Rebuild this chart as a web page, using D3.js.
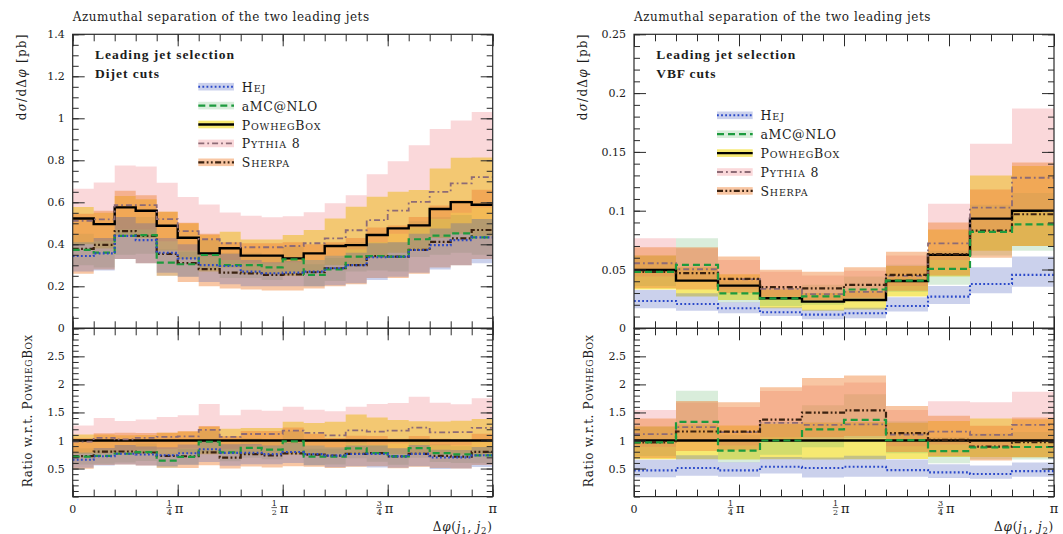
<!DOCTYPE html>
<html>
<head>
<meta charset="utf-8">
<script src="https://cdn.jsdelivr.net/npm/d3@7/dist/d3.min.js"></script>
<style>
  html, body { margin: 0; padding: 0; background: #fff; }
  svg { display: block; }
  text { font-family: "DejaVu Serif", "Liberation Serif", serif; fill: #1c1c1c; }
  text.heading { font-family: "Liberation Serif", "DejaVu Serif", serif; font-weight: bold; }
</style>
</head>
<body>
<svg id="chart" width="1063" height="534"></svg>
<script>
// ---------------------------------------------------------------------------
// Binning (Δφ in units of π) and tick labels
// ---------------------------------------------------------------------------
const dijetEdges = [0, 0.05, 0.1, 0.15, 0.2, 0.25, 0.3, 0.35, 0.4, 0.45, 0.5,
                    0.55, 0.6, 0.65, 0.7, 0.75, 0.8, 0.85, 0.9, 0.95, 1];
const vbfEdges = [0, 0.1, 0.2, 0.3, 0.4, 0.5, 0.6, 0.7, 0.8, 0.9, 1];
const xMajorTicks = [0, 0.25, 0.5, 0.75, 1];
const xTickLabels = [
  { text: "0" },
  { num: "1", den: "4", sym: "π" },
  { num: "1", den: "2", sym: "π" },
  { num: "3", den: "4", sym: "π" },
  { text: "π" }
];
const dijetYTicks = [0, 0.2, 0.4, 0.6, 0.8, 1, 1.2, 1.4];
const vbfYTicks = [0, 0.05, 0.1, 0.15, 0.2, 0.25];
const ratioYTicks = [0.5, 1, 1.5, 2, 2.5];

const generatorNames = ["Hej", "aMC@NLO", "PowhegBox", "Pythia 8", "Sherpa"];

// ---------------------------------------------------------------------------
// Dijet cuts: dσ/dΔφ [pb], central values and uncertainty envelopes
// ---------------------------------------------------------------------------
const dijetHej    = [0.344, 0.357, 0.44, 0.42, 0.36, 0.333, 0.301, 0.297, 0.27, 0.262,
                     0.265, 0.27, 0.286, 0.301, 0.338, 0.341, 0.373, 0.396, 0.42, 0.433];
const dijetHejLo  = [0.27, 0.275, 0.33, 0.31, 0.265, 0.245, 0.22, 0.21, 0.2, 0.2,
                     0.2, 0.2, 0.205, 0.215, 0.23, 0.245, 0.265, 0.28, 0.3, 0.31];
const dijetHejHi  = [0.41, 0.43, 0.53, 0.5, 0.43, 0.4, 0.36, 0.355, 0.325, 0.315,
                     0.32, 0.325, 0.345, 0.36, 0.405, 0.41, 0.45, 0.475, 0.5, 0.52];

const dijetAmc    = [0.373, 0.36, 0.44, 0.444, 0.313, 0.305, 0.349, 0.301, 0.301, 0.29,
                     0.328, 0.254, 0.28, 0.341, 0.344, 0.341, 0.424, 0.441, 0.452, 0.433];
const dijetAmcLo  = [0.3, 0.29, 0.35, 0.355, 0.25, 0.245, 0.28, 0.24, 0.24, 0.23,
                     0.26, 0.2, 0.225, 0.27, 0.275, 0.27, 0.34, 0.35, 0.36, 0.35];
const dijetAmcHi  = [0.45, 0.43, 0.53, 0.53, 0.375, 0.365, 0.42, 0.36, 0.36, 0.345,
                     0.39, 0.305, 0.335, 0.41, 0.41, 0.41, 0.51, 0.53, 0.54, 0.52];

const dijetPowheg   = [0.523, 0.496, 0.576, 0.56, 0.488, 0.431, 0.357, 0.381, 0.346, 0.346,
                       0.333, 0.357, 0.392, 0.396, 0.444, 0.476, 0.49, 0.568, 0.601, 0.588];
const dijetPowhegLo = [0.4, 0.38, 0.44, 0.43, 0.37, 0.33, 0.27, 0.29, 0.26, 0.26,
                       0.25, 0.27, 0.3, 0.3, 0.34, 0.36, 0.37, 0.43, 0.45, 0.44];
const dijetPowhegHi = [0.578, 0.55, 0.63, 0.615, 0.555, 0.5, 0.445, 0.46, 0.423, 0.423,
                       0.444, 0.468, 0.523, 0.579, 0.626, 0.65, 0.658, 0.761, 0.812, 0.813];

const dijetPythia   = [0.512, 0.519, 0.587, 0.587, 0.52, 0.463, 0.424, 0.405, 0.386, 0.386,
                       0.392, 0.405, 0.428, 0.467, 0.515, 0.56, 0.602, 0.65, 0.69, 0.72];
const dijetPythiaLo = [0.41, 0.415, 0.47, 0.47, 0.415, 0.37, 0.34, 0.325, 0.31, 0.31,
                       0.315, 0.325, 0.345, 0.375, 0.41, 0.45, 0.48, 0.52, 0.55, 0.575];
const dijetPythiaHi = [0.664, 0.694, 0.775, 0.77, 0.693, 0.625, 0.589, 0.552, 0.536, 0.529,
                       0.533, 0.553, 0.596, 0.634, 0.733, 0.795, 0.872, 0.949, 0.99, 1.03];

const dijetSherpa   = [0.378, 0.397, 0.463, 0.44, 0.354, 0.31, 0.282, 0.265, 0.262, 0.254,
                       0.257, 0.267, 0.286, 0.301, 0.344, 0.341, 0.373, 0.412, 0.428, 0.468];
const dijetSherpaLo = [0.26, 0.28, 0.33, 0.31, 0.25, 0.22, 0.2, 0.19, 0.185, 0.18,
                       0.18, 0.19, 0.2, 0.21, 0.24, 0.24, 0.26, 0.29, 0.3, 0.33];
const dijetSherpaHi = [0.545, 0.56, 0.655, 0.634, 0.555, 0.503, 0.45, 0.41, 0.405, 0.405,
                       0.41, 0.4, 0.41, 0.43, 0.48, 0.49, 0.53, 0.585, 0.61, 0.66];

// ---------------------------------------------------------------------------
// VBF cuts: dσ/dΔφ [pb], central values and uncertainty envelopes
// ---------------------------------------------------------------------------
const vbfHej      = [0.0232, 0.0207, 0.017, 0.0136, 0.0116, 0.0128, 0.019, 0.0269, 0.0377, 0.0454];
const vbfHejLo    = [0.017, 0.015, 0.0128, 0.0105, 0.0077, 0.0085, 0.0142, 0.0207, 0.0298, 0.0354];
const vbfHejHi    = [0.0326, 0.0298, 0.0222, 0.018, 0.0158, 0.0175, 0.0265, 0.036, 0.0519, 0.061];

const vbfAmc      = [0.048, 0.054, 0.0297, 0.0255, 0.0272, 0.033, 0.0405, 0.0505, 0.082, 0.0884];
const vbfAmcLo    = [0.036, 0.041, 0.022, 0.019, 0.02, 0.025, 0.031, 0.037, 0.062, 0.066];
const vbfAmcHi    = [0.062, 0.0765, 0.04, 0.034, 0.037, 0.044, 0.054, 0.066, 0.105, 0.115];

const vbfPowheg   = [0.0496, 0.0405, 0.0363, 0.0255, 0.0227, 0.0241, 0.0402, 0.0624, 0.0933, 0.1];
const vbfPowhegLo = [0.033, 0.027, 0.024, 0.017, 0.015, 0.016, 0.027, 0.044, 0.066, 0.07];
const vbfPowhegHi = [0.062, 0.052, 0.046, 0.033, 0.03, 0.032, 0.053, 0.084, 0.13, 0.138];

const vbfPythia   = [0.0553, 0.0502, 0.0417, 0.0335, 0.029, 0.031, 0.0445, 0.0723, 0.1026, 0.128];
const vbfPythiaLo = [0.044, 0.04, 0.033, 0.027, 0.023, 0.025, 0.036, 0.058, 0.082, 0.1];
const vbfPythiaHi = [0.0765, 0.068, 0.058, 0.048, 0.045, 0.049, 0.062, 0.106, 0.157, 0.187];

const vbfSherpa   = [0.048, 0.047, 0.042, 0.035, 0.034, 0.037, 0.0455, 0.063, 0.083, 0.097];
const vbfSherpaLo = [0.034, 0.033, 0.03, 0.025, 0.024, 0.026, 0.032, 0.045, 0.06, 0.07];
const vbfSherpaHi = [0.069, 0.069, 0.061, 0.0497, 0.048, 0.052, 0.065, 0.09, 0.118, 0.141];

// ---------------------------------------------------------------------------
// Styling
// ---------------------------------------------------------------------------
const styles = {
  hej:    { line: "#2b49c9", width: 2.1, dash: "1.8 2.3", band: "rgba(70,88,185,0.28)" },
  amc:    { line: "#1d9b3e", width: 2.2, dash: "7 4", band: "rgba(80,175,90,0.22)" },
  powheg: { line: "#000000", width: 2.4, dash: null, band: "rgba(242,222,40,0.66)" },
  pythia: { line: "#8d6b76", width: 1.8, dash: "6 3 1.8 3", band: "rgba(236,110,120,0.27)" },
  sherpa: { line: "#3b2210", width: 2.2, dash: "6 2.4 1.8 2.4 1.8 2.4", band: "rgba(240,130,55,0.46)" }
};
const seriesKeys = ["hej", "amc", "powheg", "pythia", "sherpa"];
const bandOrder = ["powheg", "amc", "pythia", "sherpa", "hej"];
const lineOrder = ["powheg", "pythia", "sherpa", "amc", "hej"];

const layout = { yTop: 34.3, yBottom: 328.3, rBottom: 496.6 };

const panels = [
  {
    id: "dijet", x0: 72.7, x1: 492.7, yMax: 1.4, yTicks: dijetYTicks, yMinorStep: 0.05,
    cutLabel: "Dijet cuts", cutWidth: 65, edges: dijetEdges, legendX: 125.6, legendY: 86.7,
    series: {
      hej:    { c: dijetHej, lo: dijetHejLo, hi: dijetHejHi },
      amc:    { c: dijetAmc, lo: dijetAmcLo, hi: dijetAmcHi },
      powheg: { c: dijetPowheg, lo: dijetPowhegLo, hi: dijetPowhegHi },
      pythia: { c: dijetPythia, lo: dijetPythiaLo, hi: dijetPythiaHi },
      sherpa: { c: dijetSherpa, lo: dijetSherpaLo, hi: dijetSherpaHi }
    }
  },
  {
    id: "vbf", x0: 634, x1: 1054, yMax: 0.25, yTicks: vbfYTicks, yMinorStep: 0.01,
    cutLabel: "VBF cuts", cutWidth: 60, edges: vbfEdges, legendX: 83, legendY: 115.3,
    series: {
      hej:    { c: vbfHej, lo: vbfHejLo, hi: vbfHejHi },
      amc:    { c: vbfAmc, lo: vbfAmcLo, hi: vbfAmcHi },
      powheg: { c: vbfPowheg, lo: vbfPowhegLo, hi: vbfPowhegHi },
      pythia: { c: vbfPythia, lo: vbfPythiaLo, hi: vbfPythiaHi },
      sherpa: { c: vbfSherpa, lo: vbfSherpaLo, hi: vbfSherpaHi }
    }
  }
];

const svg = d3.select("#chart");
const defs = svg.append("defs");

// Stretch or squeeze letter spacing so a label spans a given width
function fitText(sel, target) {
  const node = sel.node();
  const w = node.getComputedTextLength();
  const n = node.textContent.length;
  if (w > 0 && n > 0) sel.attr("letter-spacing", ((target - w) / n).toFixed(3));
}

// Append a label set in small capitals: lower-case runs become reduced capitals
function appendSmallCaps(textSel, str) {
  const runs = str.match(/[a-z]+|[^a-z]+/g) || [];
  runs.forEach(r => {
    if (/^[a-z]+$/.test(r)) {
      textSel.append("tspan").attr("font-size", "0.76em").text(r.toUpperCase());
    } else {
      textSel.append("tspan").text(r);
    }
  });
}

function styleAxis(g) {
  g.attr("font-family", null).attr("font-size", null);
  g.select(".domain").remove();
  g.selectAll(".tick line").attr("stroke", "#2a2a2a").attr("stroke-width", 1);
}

const numFmt = v => String(+v.toFixed(3));

function drawPanel(p) {
  const g = svg.append("g").attr("class", "panel-" + p.id);
  const x = d3.scaleLinear().domain([0, 1]).range([p.x0, p.x1]);
  const y = d3.scaleLinear().domain([0, p.yMax]).range([layout.yBottom, layout.yTop]);
  const yr = d3.scaleLinear().domain([0, 3]).range([layout.rBottom, layout.yBottom]);
  const n = p.edges.length - 1;
  const ref = p.series.powheg.c;

  defs.append("clipPath").attr("id", "clip-main-" + p.id)
    .append("rect").attr("x", p.x0).attr("y", layout.yTop)
    .attr("width", p.x1 - p.x0).attr("height", layout.yBottom - layout.yTop);
  defs.append("clipPath").attr("id", "clip-ratio-" + p.id)
    .append("rect").attr("x", p.x0).attr("y", layout.yBottom)
    .attr("width", p.x1 - p.x0).attr("height", layout.rBottom - layout.yBottom);

  const mainG = g.append("g").attr("clip-path", `url(#clip-main-${p.id})`);
  const ratioG = g.append("g").attr("clip-path", `url(#clip-ratio-${p.id})`);

  const bandPts = (s, div) => p.edges.map((e, i) => {
    const k = Math.min(i, n - 1);
    const d = div ? ref[k] : 1;
    return { e, lo: s.lo[k] / d, hi: s.hi[k] / d };
  });
  const linePts = (s, div) => p.edges.map((e, i) => {
    const k = Math.min(i, n - 1);
    return { e, v: s.c[k] / (div ? ref[k] : 1) };
  });

  const areaMain = d3.area().curve(d3.curveStepAfter)
    .x(d => x(d.e)).y0(d => y(d.lo)).y1(d => y(d.hi));
  const areaRatio = d3.area().curve(d3.curveStepAfter)
    .x(d => x(d.e)).y0(d => yr(d.lo)).y1(d => yr(d.hi));
  const lineMain = d3.line().curve(d3.curveStepAfter).x(d => x(d.e)).y(d => y(d.v));
  const lineRatio = d3.line().curve(d3.curveStepAfter).x(d => x(d.e)).y(d => yr(d.v));

  bandOrder.forEach(k => {
    const s = p.series[k];
    mainG.append("path").datum(bandPts(s, false)).attr("d", areaMain)
      .attr("fill", styles[k].band).attr("stroke", "none");
    ratioG.append("path").datum(bandPts(s, true)).attr("d", areaRatio)
      .attr("fill", styles[k].band).attr("stroke", "none");
  });
  lineOrder.forEach(k => {
    const s = p.series[k], st = styles[k];
    [[mainG, lineMain, false], [ratioG, lineRatio, true]].forEach(([grp, gen, div]) => {
      grp.append("path").datum(linePts(s, div)).attr("d", gen)
        .attr("fill", "none").attr("stroke", st.line).attr("stroke-width", st.width)
        .attr("stroke-dasharray", st.dash).attr("stroke-linecap", "butt");
    });
  });

  // Frames
  g.append("rect").attr("x", p.x0).attr("y", layout.yTop)
    .attr("width", p.x1 - p.x0).attr("height", layout.yBottom - layout.yTop)
    .attr("fill", "none").attr("stroke", "#2a2a2a").attr("stroke-width", 1.2);
  g.append("rect").attr("x", p.x0).attr("y", layout.yBottom)
    .attr("width", p.x1 - p.x0).attr("height", layout.rBottom - layout.yBottom)
    .attr("fill", "none").attr("stroke", "#2a2a2a").attr("stroke-width", 1.2);

  // Y axes of the main pad
  const yMinor = d3.range(0, p.yMax + 1e-9, p.yMinorStep);
  g.append("g").attr("transform", `translate(${p.x0},0)`)
    .call(d3.axisLeft(y).tickValues(p.yTicks).tickSize(-12).tickPadding(8).tickFormat(numFmt))
    .call(styleAxis);
  g.append("g").attr("transform", `translate(${p.x0},0)`)
    .call(d3.axisLeft(y).tickValues(yMinor).tickSize(-6).tickFormat(""))
    .call(styleAxis);
  g.append("g").attr("transform", `translate(${p.x1},0)`)
    .call(d3.axisRight(y).tickValues(p.yTicks).tickSize(-12).tickFormat(""))
    .call(styleAxis);
  g.append("g").attr("transform", `translate(${p.x1},0)`)
    .call(d3.axisRight(y).tickValues(yMinor).tickSize(-6).tickFormat(""))
    .call(styleAxis);

  // Y axes of the ratio pad
  const rMinor = d3.range(0, 3.0001, 0.1);
  g.append("g").attr("transform", `translate(${p.x0},0)`)
    .call(d3.axisLeft(yr).tickValues(ratioYTicks).tickSize(-12).tickPadding(8).tickFormat(numFmt))
    .call(styleAxis);
  g.append("g").attr("transform", `translate(${p.x0},0)`)
    .call(d3.axisLeft(yr).tickValues(rMinor).tickSize(-6).tickFormat(""))
    .call(styleAxis);
  g.append("g").attr("transform", `translate(${p.x1},0)`)
    .call(d3.axisRight(yr).tickValues(ratioYTicks).tickSize(-12).tickFormat(""))
    .call(styleAxis);
  g.append("g").attr("transform", `translate(${p.x1},0)`)
    .call(d3.axisRight(yr).tickValues(rMinor).tickSize(-6).tickFormat(""))
    .call(styleAxis);

  g.selectAll(".tick text").attr("font-size", 11).attr("fill", "#1c1c1c");

  // X axes: top of main, shared boundary, bottom of ratio
  const xAxisPairs = [
    [d3.axisTop, layout.yTop], [d3.axisBottom, layout.yBottom],
    [d3.axisTop, layout.yBottom], [d3.axisBottom, layout.rBottom]
  ];
  xAxisPairs.forEach(([fn, yy]) => {
    g.append("g").attr("transform", `translate(0,${yy})`)
      .call(fn(x).tickValues(xMajorTicks).tickSize(-12).tickFormat(""))
      .call(styleAxis);
    g.append("g").attr("transform", `translate(0,${yy})`)
      .call(fn(x).tickValues(dijetEdges).tickSize(-7).tickFormat(""))
      .call(styleAxis);
  });

  // Δφ tick labels with stacked fractions
  const lab = g.append("g").attr("transform", `translate(0,${layout.rBottom})`);
  xMajorTicks.forEach((v, i) => {
    const t = xTickLabels[i];
    const tg = lab.append("g").attr("transform", `translate(${x(v)},0)`);
    if (t.text) {
      tg.append("text").attr("x", 0).attr("y", 16).attr("text-anchor", "middle")
        .attr("font-size", t.text === "π" ? 13 : 11).text(t.text);
    } else {
      tg.append("text").attr("x", -8.5).attr("y", 9.2).attr("text-anchor", "middle")
        .attr("font-size", 8).text(t.num);
      tg.append("line").attr("x1", -11.3).attr("x2", -5.7).attr("y1", 11).attr("y2", 11)
        .attr("stroke", "#1c1c1c").attr("stroke-width", 0.7);
      tg.append("text").attr("x", -8.5).attr("y", 18.6).attr("text-anchor", "middle")
        .attr("font-size", 8).text(t.den);
      tg.append("text").attr("x", -3).attr("y", 16).attr("text-anchor", "start")
        .attr("font-size", 13).text(t.sym);
    }
  });

  // Axis titles
  const xt = g.append("text").attr("x", p.x1).attr("y", 531).attr("text-anchor", "end")
    .attr("font-size", 12);
  xt.append("tspan").text("Δ");
  xt.append("tspan").attr("font-style", "italic").text("φ");
  xt.append("tspan").text("(");
  xt.append("tspan").attr("font-style", "italic").text("j");
  xt.append("tspan").attr("font-size", 8.5).attr("dy", 2.5).text("1");
  xt.append("tspan").attr("dy", -2.5).text(", ");
  xt.append("tspan").attr("font-style", "italic").text("j");
  xt.append("tspan").attr("font-size", 8.5).attr("dy", 2.5).text("2");
  xt.append("tspan").attr("dy", -2.5).text(")");
  fitText(xt, 60);

  const yl = g.append("text")
    .attr("transform", `translate(${p.x0 - 47},${layout.yTop - 1}) rotate(-90)`)
    .attr("text-anchor", "end").attr("font-size", 12);
  yl.append("tspan").text("d");
  yl.append("tspan").attr("font-style", "italic").text("σ");
  yl.append("tspan").text("/d");
  yl.append("tspan").text("Δ");
  yl.append("tspan").attr("font-style", "italic").text("φ");
  yl.append("tspan").text(" [pb]");
  fitText(yl, 87);

  const rl = g.append("text")
    .attr("transform", `translate(${p.x0 - 41},${layout.yBottom + 6}) rotate(-90)`)
    .attr("text-anchor", "end").attr("font-size", 12);
  rl.append("tspan").text("Ratio w.r.t. ");
  appendSmallCaps(rl, "PowhegBox");
  fitText(rl, 153);

  // Title
  const title = g.append("text").attr("x", p.x0).attr("y", 20.5).attr("font-size", 12)
    .text("Azumuthal separation of the two leading jets");
  fitText(title, 297);

  // Selection labels
  const h1 = g.append("text").attr("class", "heading").attr("x", p.x0 + 22.3).attr("y", 59.3)
    .attr("font-size", 13.5).text("Leading jet selection");
  fitText(h1, 140);
  const h2 = g.append("text").attr("class", "heading").attr("x", p.x0 + 22.3).attr("y", 78.3)
    .attr("font-size", 13.5).text(p.cutLabel);
  fitText(h2, p.cutWidth);

  // Legend
  const legendWidths = [24.5, 76, 79.5, 58.8, 48];
  const lx = p.x0 + p.legendX;
  seriesKeys.forEach((k, i) => {
    const st = styles[k];
    const cy = p.legendY + i * 18.9;
    g.append("rect").attr("x", lx).attr("y", cy - 3.8).attr("width", 35.7).attr("height", 7.6)
      .attr("fill", st.band);
    g.append("line").attr("x1", lx).attr("x2", lx + 35.7).attr("y1", cy).attr("y2", cy)
      .attr("stroke", st.line).attr("stroke-width", st.width)
      .attr("stroke-dasharray", st.dash);
    const t = g.append("text").attr("x", lx + 43.5).attr("y", cy + 5).attr("font-size", 12.5);
    if (k === "amc") t.text(generatorNames[i]);
    else appendSmallCaps(t, generatorNames[i]);
    fitText(t, legendWidths[i]);
  });
}

panels.forEach(drawPanel);
</script>
</body>
</html>
